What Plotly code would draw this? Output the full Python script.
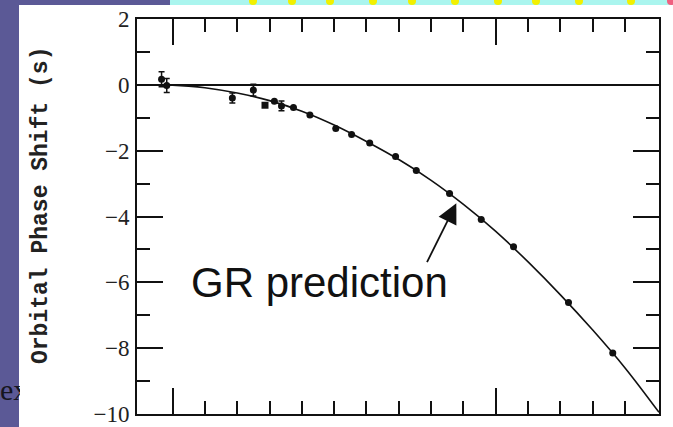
import plotly.graph_objects as go

# ---- data ----
obs_year = [1974.66, 1974.82, 1976.85, 1977.50, 1977.86, 1978.15, 1978.37, 1978.74,
            1979.25, 1980.05, 1980.54, 1981.10, 1981.90, 1982.54, 1983.57, 1984.55,
            1985.55, 1987.25, 1988.62]
obs_shift = [0.17, -0.02, -0.40, -0.16, -0.62, -0.50, -0.64, -0.69,
             -0.92, -1.33, -1.51, -1.77, -2.18, -2.60, -3.30, -4.09,
             -4.92, -6.61, -8.15]
obs_err = [0.23, 0.21, 0.15, 0.18, 0, 0, 0.15, 0,
           0, 0, 0, 0, 0, 0, 0, 0,
           0, 0, 0]
obs_symbol = ["circle", "circle", "circle", "circle", "square", "circle", "circle", "circle",
              "circle", "circle", "circle", "circle", "circle", "circle", "circle", "circle",
              "circle", "circle", "circle"]

gr_year = [1973.9, 1974.5, 1975.0, 1975.5, 1976.0, 1977.0, 1978.0, 1979.0, 1980.0,
           1981.0, 1982.0, 1983.0, 1984.0, 1985.0, 1986.0, 1987.0, 1988.0, 1989.0, 1990.05]
gr_shift = [0.0, 0.0, -0.01, -0.04, -0.09, -0.25, -0.48, -0.80, -1.22,
            -1.72, -2.27, -2.90, -3.63, -4.45, -5.38, -6.38, -7.45, -8.60, -9.95]

y_major = [-10, -8, -6, -4, -2, 0, 2]
y_minor = [-9, -7, -5, -3, -1, 1]
x_major = [1975, 1985]
x_minor = [1976, 1977, 1978, 1979, 1980, 1981, 1982, 1983, 1984,
           1986, 1987, 1988, 1989]

label_text = "GR prediction"
y_title = "Orbital Phase Shift (s)"

# ---- page geometry ----
W, H = 673, 427
L, T, PW, PH = 137, 19, 522, 395


def px(x):
    return (x - L) / PW


def py(y):
    return (T + PH - y) / PH


PURPLE = "#5b5996"
CYAN = "#aaf5ee"

fig = go.Figure()

fig.add_trace(go.Scatter(
    x=gr_year, y=gr_shift, mode="lines",
    line=dict(color="#111111", width=1.6, shape="spline"),
    hoverinfo="skip", showlegend=False))

fig.add_trace(go.Scatter(
    x=obs_year, y=obs_shift, mode="markers",
    marker=dict(color="#111111", size=7, symbol=obs_symbol),
    error_y=dict(type="data", array=obs_err, visible=True,
                 color="#111111", thickness=1.5, width=3),
    showlegend=False))

shapes = [
    dict(type="rect", xref="paper", yref="paper", x0=px(0), x1=px(19),
         y0=py(H), y1=py(0), fillcolor=PURPLE, line=dict(width=0), layer="below"),
    dict(type="rect", xref="paper", yref="paper", x0=px(0), x1=px(170),
         y0=py(5), y1=py(0), fillcolor=PURPLE, line=dict(width=0), layer="below"),
    dict(type="rect", xref="paper", yref="paper", x0=px(170), x1=px(W),
         y0=py(5), y1=py(0), fillcolor=CYAN, line=dict(width=0), layer="below"),
]
for cx in [253, 292, 330, 373, 412, 455, 498, 536, 579, 631]:
    shapes.append(dict(type="circle", xref="paper", yref="paper",
                       x0=px(cx - 4), x1=px(cx + 4), y0=py(5), y1=py(-3),
                       fillcolor="#f2f000", line=dict(width=0), layer="below"))
shapes.append(dict(type="circle", xref="paper", yref="paper",
                   x0=px(667), x1=px(675), y0=py(5), y1=py(-3),
                   fillcolor="#f06080", line=dict(width=0), layer="below"))

annotations = [
    dict(text="<b>" + y_title + "</b>", xref="paper", yref="paper", x=px(41), y=py(206),
         textangle=-90, showarrow=False, xanchor="center", yanchor="middle",
         font=dict(family="Liberation Mono, Courier New, monospace", size=23,
                   color="#222222")),
    dict(text=label_text, xref="x", yref="y", x=1975.5, y=-6.0,
         xanchor="left", yanchor="middle", showarrow=False,
         font=dict(family="Liberation Sans, Arial", size=42, color="#111111")),
    dict(text="", x=1983.78, y=-3.6, ax=1982.85, ay=-5.43, xref="x", yref="y",
         axref="x", ayref="y", showarrow=True, arrowhead=2, arrowsize=2.2,
         arrowwidth=1.8, arrowcolor="#111111"),
    dict(text="ex", xref="paper", yref="paper", x=px(-1), y=py(389),
         xanchor="left", yanchor="middle", showarrow=False, width=20, align="left",
         borderpad=0,
         font=dict(family="Liberation Serif", size=30, color="#151520")),
]

fig.update_layout(
    width=W, height=H,
    margin=dict(l=L, r=W - L - PW, t=T, b=H - T - PH, pad=0, autoexpand=False),
    paper_bgcolor="white", plot_bgcolor="white",
    shapes=shapes, annotations=annotations,
    xaxis=dict(range=[1973.9, 1990.05], showgrid=False, zeroline=False,
               automargin=False,
               showline=True, linecolor="#111111", linewidth=1.6, mirror="ticks",
               tickmode="array", tickvals=x_major, ticks="inside", ticklen=26,
               tickwidth=1.5, tickcolor="#111111", showticklabels=False,
               minor=dict(tickmode="array", tickvals=x_minor, ticks="inside",
                          ticklen=13, tickwidth=1.5, tickcolor="#111111",
                          showgrid=False)),
    yaxis=dict(range=[-10, 2], showgrid=False, zeroline=True, automargin=False,
               zerolinecolor="#111111", zerolinewidth=1.6,
               showline=True, linecolor="#111111", linewidth=1.6, mirror="ticks",
               tickmode="array", tickvals=y_major, ticks="inside", ticklen=26,
               tickwidth=1.5, tickcolor="#111111", ticklabelstandoff=1,
               ticklabeloverflow="allow",
               tickfont=dict(family="Liberation Serif", size=23, color="#222222"),
               minor=dict(tickmode="array", tickvals=y_minor, ticks="inside",
                          ticklen=13, tickwidth=1.5, tickcolor="#111111",
                          showgrid=False)),
)

fig.write_html("out.html")
